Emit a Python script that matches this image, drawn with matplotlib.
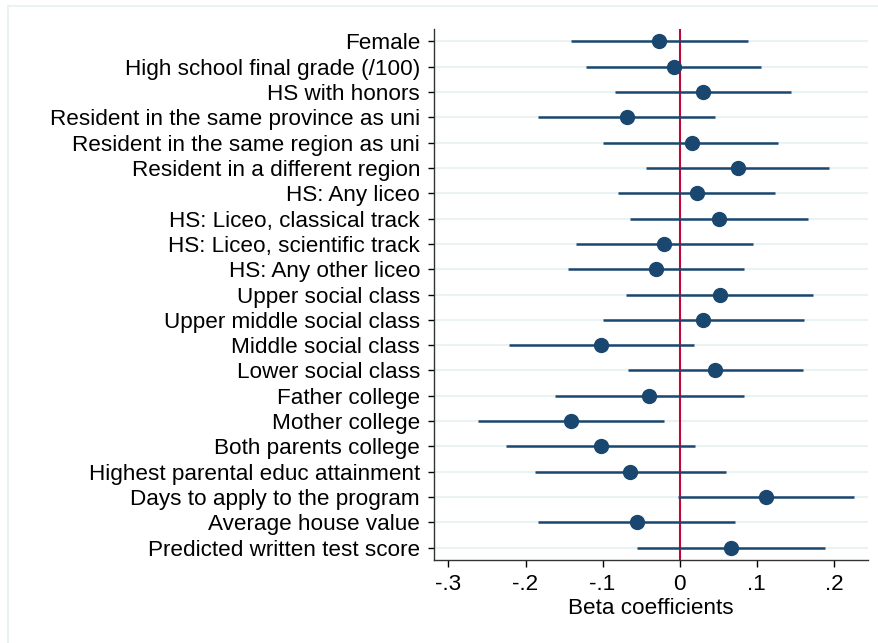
import numpy as np
import matplotlib.pyplot as plt
from matplotlib.lines import Line2D

plt.rcParams['font.family'] = ['Liberation Sans', 'DejaVu Sans']

etiquetas = ["Female", "High school final grade (/100)", "HS with honors",
             "Resident in the same province as uni", "Resident in the same region as uni",
             "Resident in a different region", "HS: Any liceo", "HS: Liceo, classical track",
             "HS: Liceo, scientific track", "HS: Any other liceo", "Upper social class",
             "Upper middle social class", "Middle social class", "Lower social class",
             "Father college", "Mother college", "Both parents college",
             "Highest parental educ attainment", "Days to apply to the program",
             "Average house value", "Predicted written test score"]
beta = [-0.027, -0.008, 0.030, -0.069, 0.016, 0.075, 0.022, 0.051, -0.020, -0.031,
        0.052, 0.030, -0.102, 0.046, -0.040, -0.141, -0.102, -0.064, 0.112, -0.056, 0.067]
lo = [-0.141, -0.121, -0.084, -0.184, -0.099, -0.044, -0.080, -0.065, -0.134, -0.145,
      -0.070, -0.100, -0.221, -0.067, -0.162, -0.262, -0.225, -0.188, -0.002, -0.184, -0.055]
hi = [0.088, 0.105, 0.144, 0.046, 0.128, 0.194, 0.124, 0.167, 0.095, 0.083,
      0.173, 0.161, 0.018, 0.160, 0.083, -0.021, 0.020, 0.060, 0.226, 0.072, 0.188]
xticks = [-0.3, -0.2, -0.1, 0, 0.1, 0.2]
xticklabels = ["-.3", "-.2", "-.1", "0", ".1", ".2"]

azul = "#1a476f"
fig = plt.figure(figsize=(8.79, 6.43), dpi=100)
ax = fig.add_axes([434/879, 83/643, 434/879, 531/643])

y = np.arange(len(etiquetas))
for yi in y:
    ax.axhline(yi, color="#eaf2f3", lw=1.5, zorder=0)
ax.axvline(0, color="#c10534", lw=1.5, zorder=1)
ax.hlines(y, lo, hi, color=azul, lw=1.8, zorder=2)
ax.plot(beta, y, "o", color=azul, ms=10, zorder=3)

ax.set_ylim(20.486, -0.486)
ax.set_xlim(-0.3187, 0.2442)
ax.set_yticks(y)
ax.set_yticklabels(etiquetas, fontsize=16.2)
ax.set_xticks(xticks)
ax.set_xticklabels(xticklabels, fontsize=16.2)
ax.set_xlabel("Beta coefficients", fontsize=16.2, labelpad=2)
ax.tick_params(axis="y", length=4, width=1, pad=6)
ax.tick_params(axis="x", length=5, width=1, pad=5)
for s in ["top", "right"]:
    ax.spines[s].set_visible(False)
for s in ["left", "bottom"]:
    ax.spines[s].set_color("#333333")
    ax.spines[s].set_linewidth(1)

# marco claro del grafico
fig.add_artist(Line2D([8/879, 8/879], [0, 1 - 6/643], transform=fig.transFigure, color="#eaf2f3", lw=1.5))
fig.add_artist(Line2D([8/879, 1], [1 - 6/643, 1 - 6/643], transform=fig.transFigure, color="#eaf2f3", lw=1.5))

plt.savefig("out.png", dpi=100)
plt.close()
